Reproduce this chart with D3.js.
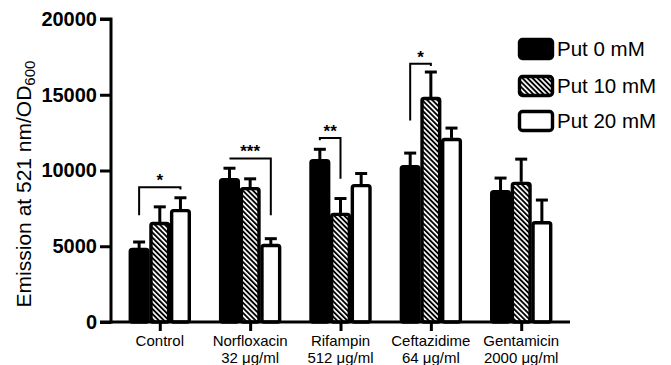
<!DOCTYPE html>
<html>
<head>
<meta charset="utf-8">
<script src="https://cdn.jsdelivr.net/npm/d3@7"></script>
<style>
  html, body { margin: 0; padding: 0; background: #fff; }
  svg { display: block; font-family: "Liberation Sans", Arial, Helvetica, sans-serif; }
</style>
</head>
<body>
<svg id="chart" width="671" height="365"></svg>
<script>
// ---- data ----
const categories = ["Control", "Norfloxacin", "Rifampin", "Ceftazidime", "Gentamicin"];
const subLabels = ["", "32 μg/ml", "512 μg/ml", "64 μg/ml", "2000 μg/ml"];
const seriesNames = ["Put 0 mM", "Put 10 mM", "Put 20 mM"];
const put0 = [4880, 9500, 10750, 10350, 8700];
const put0Err = [400, 650, 650, 800, 800];
const put10 = [6600, 8900, 7200, 14850, 9250];
const put10Err = [1000, 550, 950, 1650, 1500];
const put20 = [7450, 5150, 9100, 12150, 6650];
const put20Err = [750, 350, 700, 650, 1400];
const yTicks = [0, 5000, 10000, 15000, 20000];
// significance brackets: group, left series, right series, bracket level, left end, right end, label
const sigGroup = ["Control", "Norfloxacin", "Rifampin", "Ceftazidime"];
const sigFrom = [0, 0, 0, 0];
const sigTo = [2, 2, 1, 1];
const sigLevel = [8900, 10800, 12150, 17050];
const sigLeftEnd = [7050, 10800, 12000, 13300];
const sigRightEnd = [8750, 7050, 9450, 16900];
const sigLabel = ["*", "***", "**", "*"];

const values = [put0, put10, put20];
const errs = [put0Err, put10Err, put20Err];

const svg = d3.select("#chart");
const mLeft = 111, mRight = 570, mTop = 19, mBottom = 322;

// hatch pattern
const defs = svg.append("defs");
const pat = defs.append("pattern")
  .attr("id", "hatch")
  .attr("patternUnits", "userSpaceOnUse")
  .attr("width", 3.6).attr("height", 3.6)
  .attr("patternTransform", "rotate(-45)");
pat.append("rect").attr("width", 3.6).attr("height", 3.6).attr("fill", "#fff");
pat.append("rect").attr("width", 1.9).attr("height", 3.6).attr("fill", "#000");

const fills = ["#000", "url(#hatch)", "#fff"];

const x0 = d3.scalePoint().domain(categories).range([mLeft, mRight]).padding(0.54);
const groupW = 62;
const x1 = d3.scaleBand().domain(d3.range(seriesNames.length)).range([-groupW / 2, groupW / 2]).padding(0);
const y = d3.scaleLinear().domain([0, 20000]).range([mBottom, mTop]);

// bars
const g = svg.append("g");
categories.forEach((c, ci) => {
  seriesNames.forEach((s, si) => {
    const bx = x0(c) + x1(si);
    const bw = x1.bandwidth();
    const v = values[si][ci];
    const e = errs[si][ci];
    const cx = bx + bw / 2;
    g.append("line")
      .attr("x1", cx).attr("x2", cx)
      .attr("y1", y(v)).attr("y2", y(v + e))
      .attr("stroke", "#000").attr("stroke-width", 3);
    g.append("line")
      .attr("x1", cx - 6).attr("x2", cx + 6)
      .attr("y1", y(v + e)).attr("y2", y(v + e))
      .attr("stroke", "#000").attr("stroke-width", 3);
    g.append("rect")
      .attr("x", bx + 1.5).attr("y", y(v) + 1.5)
      .attr("width", bw - 3).attr("height", y(0) - y(v) - 1.5)
      .attr("rx", 2)
      .attr("fill", fills[si])
      .attr("stroke", "#000").attr("stroke-width", 3.4);
  });
});

// significance brackets
sigGroup.forEach((grp, i) => {
  const xl = x0(grp) + x1(sigFrom[i]) + x1.bandwidth() / 2;
  const xr = x0(grp) + x1(sigTo[i]) + x1.bandwidth() / 2;
  const path = d3.path();
  path.moveTo(xl, y(sigLeftEnd[i]));
  path.lineTo(xl, y(sigLevel[i]));
  path.lineTo(xr, y(sigLevel[i]));
  path.lineTo(xr, y(sigRightEnd[i]));
  svg.append("path").attr("d", path.toString())
    .attr("fill", "none").attr("stroke", "#000").attr("stroke-width", 2);
  svg.append("text")
    .attr("x", (xl + xr) / 2).attr("y", y(sigLevel[i]) - 1)
    .attr("text-anchor", "middle")
    .attr("font-size", 17).attr("font-weight", "bold")
    .text(sigLabel[i]);
});

// y axis
const yAxis = d3.axisLeft(y).tickValues(yTicks).tickSize(11).tickPadding(3).tickFormat(d3.format("d"));
const ya = svg.append("g").attr("transform", `translate(${mLeft},0)`).call(yAxis);
ya.select(".domain").attr("stroke-width", 3).attr("d", `M-11,${y(20000)}H0V${y(0)}H-11`);
ya.selectAll(".tick line").attr("stroke-width", 3);
ya.selectAll(".tick text").attr("font-size", 20).attr("font-weight", "bold")
  .attr("font-family", "Liberation Sans, Arial, sans-serif").attr("fill", "#000");

// x axis
const xAxis = d3.axisBottom(x0).tickSize(9).tickSizeOuter(0).tickFormat("");
const xa = svg.append("g").attr("transform", `translate(0,${mBottom})`).call(xAxis);
xa.select(".domain").attr("stroke-width", 3).attr("d", `M${mLeft},0H${mRight}`);
xa.selectAll(".tick line").attr("stroke-width", 3);

// x labels
categories.forEach((c, i) => {
  const t = svg.append("text").attr("x", x0(c)).attr("y", 346)
    .attr("text-anchor", "middle").attr("font-size", 15);
  t.append("tspan").attr("x", x0(c)).text(c);
  if (subLabels[i]) {
    t.append("tspan").attr("x", x0(c)).attr("dy", 17).text(subLabels[i]);
  }
});

// y title
const yt = svg.append("text")
  .attr("transform", "translate(31,184) rotate(-90)")
  .attr("text-anchor", "middle")
  .attr("font-size", 21);
yt.append("tspan").text("Emission at 521 nm/OD");
yt.append("tspan").attr("font-size", 15).attr("dy", 4).text("600");

// legend
const leg = svg.append("g");
const legY = [49, 86, 121];
seriesNames.forEach((s, i) => {
  leg.append("rect")
    .attr("x", 519.5).attr("y", legY[i] - 9.5)
    .attr("width", 33).attr("height", 19)
    .attr("rx", 3)
    .attr("fill", fills[i]).attr("stroke", "#000").attr("stroke-width", 3.4);
  leg.append("text").attr("x", 557).attr("y", legY[i] + 7)
    .attr("font-size", 20.5).text(s);
});
</script>
</body>
</html>
